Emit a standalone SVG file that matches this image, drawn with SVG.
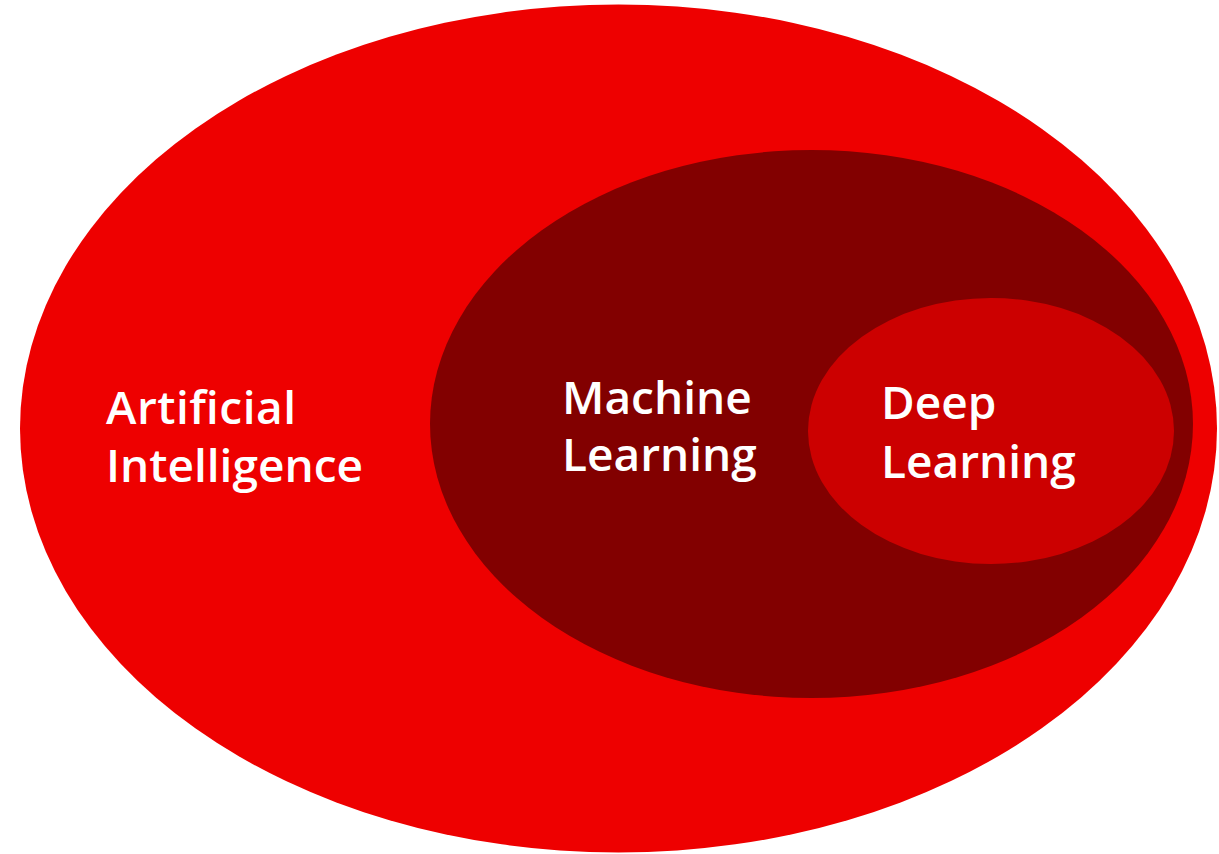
<svg xmlns="http://www.w3.org/2000/svg" width="1219" height="854" viewBox="0 0 1219 854">
<style>
.lbl{font-family:"Open Sans","Liberation Sans",sans-serif;font-weight:600;font-size:46px;fill:#ffffff}
</style>
<rect width="1219" height="854" fill="#ffffff"/>
<g id="ai">
<ellipse cx="618.5" cy="428.5" rx="598.5" ry="424" fill="#ee0000"/>
<text class="lbl" x="106" y="424" textLength="190">Artificial</text>
<text class="lbl" x="106" y="482">Intelligence</text>
</g>
<g id="ml">
<ellipse cx="811.5" cy="424" rx="381.5" ry="274" fill="#820000"/>
<text class="lbl" x="562" y="414">Machine</text>
<text class="lbl" x="562" y="471">Learning</text>
</g>
<g id="dl">
<ellipse cx="991" cy="431" rx="183" ry="133" fill="#cc0000"/>
<text class="lbl" x="881" y="419">Deep</text>
<text class="lbl" x="881" y="478">Learning</text>
</g>
<g id="connectors"/>
</svg>
